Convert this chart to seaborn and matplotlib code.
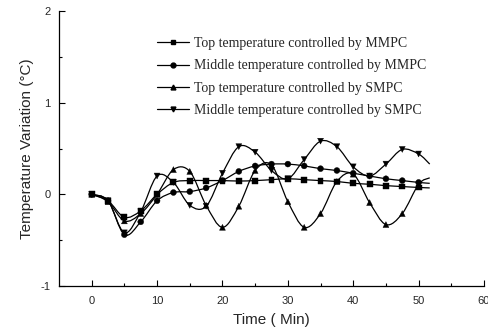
import matplotlib
matplotlib.use("Agg")
import matplotlib.pyplot as plt
from matplotlib.lines import Line2D
from matplotlib.path import Path
from matplotlib.patches import PathPatch
import numpy as np
import pandas as pd
import seaborn as sns

# values (markers every 2.5 min)
time = [0, 2.5, 5, 7.5, 10, 12.5, 15, 17.5, 20, 22.5, 25, 27.5, 30,
        32.5, 35, 37.5, 40, 42.5, 45, 47.5, 50]
top_mmpc = [0, -0.07, -0.25, -0.18, 0.0, 0.13, 0.15, 0.15, 0.15, 0.145, 0.15,
            0.16, 0.17, 0.16, 0.15, 0.14, 0.12, 0.11, 0.095, 0.085, 0.075]
mid_mmpc = [0, -0.07, -0.44, -0.30, -0.07, 0.02, 0.03, 0.07, 0.15, 0.25, 0.31,
            0.33, 0.33, 0.31, 0.28, 0.26, 0.23, 0.20, 0.17, 0.15, 0.13]
top_smpc = [0, -0.08, -0.29, -0.21, 0.0, 0.27, 0.25, -0.12, -0.36, -0.13, 0.26,
            0.32, -0.08, -0.36, -0.21, 0.14, 0.22, -0.09, -0.33, -0.21, 0.11]
mid_smpc = [0, -0.07, -0.42, -0.19, 0.20, 0.13, -0.12, -0.13, 0.23, 0.52, 0.46,
            0.26, 0.17, 0.38, 0.58, 0.52, 0.30, 0.20, 0.33, 0.49, 0.44]

# curves run a little past the last marker
t_end = 51.7
end_values = [0.07, 0.12, 0.18, 0.33]

labels = ["Top temperature controlled by MMPC",
          "Middle temperature controlled by MMPC",
          "Top temperature controlled by SMPC",
          "Middle temperature controlled by SMPC"]
markers = ["s", "o", "^", "v"]
series = [top_mmpc, mid_mmpc, top_smpc, mid_smpc]

sns.set_style("ticks")
plt.rcParams["font.family"] = ["Liberation Sans", "DejaVu Sans"]
plt.rcParams["axes.unicode_minus"] = False

fig = plt.figure(figsize=(4.89, 3.36), dpi=100)
ax = fig.add_axes([59 / 489, 1 - 286 / 336, 425 / 489, 275 / 336])


def spline_path(x, y):
    # Catmull-Rom through the points, as cubic Bezier segments
    pts = np.column_stack([x, y])
    ext = np.vstack([pts[0], pts, pts[-1]])
    verts = [pts[0]]
    codes = [Path.MOVETO]
    for i in range(1, len(ext) - 2):
        p0, p1, p2, p3 = ext[i - 1], ext[i], ext[i + 1], ext[i + 2]
        verts += [p1 + (p2 - p0) / 6, p2 - (p3 - p1) / 6, p2]
        codes += [Path.CURVE4] * 3
    return Path(verts, codes)


frames = []
for lab, vals, endv in zip(labels, series, end_values):
    ax.add_patch(PathPatch(spline_path(time + [t_end], vals + [endv]),
                           facecolor="none", edgecolor="black", lw=0.9))
    frames.append(pd.DataFrame({"time": time, "value": vals, "series": lab}))
df = pd.concat(frames)

sns.scatterplot(data=df, x="time", y="value", style="series",
                markers=dict(zip(labels, markers)), color="black",
                s=18, edgecolor="black", linewidth=0.3, legend=False, ax=ax,
                zorder=3)

ax.set_xlim(-5, 60)
ax.set_ylim(-1, 2)
ax.set_xticks(range(0, 61, 10))
ax.set_xticks(range(5, 60, 10), minor=True)
ax.set_yticks([-1, 0, 1, 2])
ax.set_yticks([-0.5, 0.5, 1.5], minor=True)
ax.tick_params(which="both", direction="in", width=0.8, labelsize=8, color="black")
ax.tick_params(which="major", length=4)
ax.tick_params(which="minor", length=2.5)
ax.tick_params(axis="x", pad=7)
ax.tick_params(axis="y", pad=6)
sns.despine(ax=ax)
for side in ["left", "bottom"]:
    ax.spines[side].set_linewidth(0.9)
    ax.spines[side].set_color("black")

ax.set_xlabel("Time ( Min)", fontsize=11, labelpad=5)
ax.set_ylabel("Temperature Variation (\u00b0C)", fontsize=11, labelpad=5)

handles = [Line2D([], [], color="black", lw=0.9, marker=m, markersize=3.5)
           for m in markers]
ax.legend(handles, labels, loc="upper left",
          bbox_to_anchor=(157 / 489, 1 - 37 / 336),
          bbox_transform=fig.transFigure, frameon=False, borderpad=0,
          borderaxespad=0, handlelength=2.3, handletextpad=0.35,
          labelspacing=0.68, prop={"family": "Liberation Serif", "size": 10})

fig.savefig("out.png", dpi=100)
